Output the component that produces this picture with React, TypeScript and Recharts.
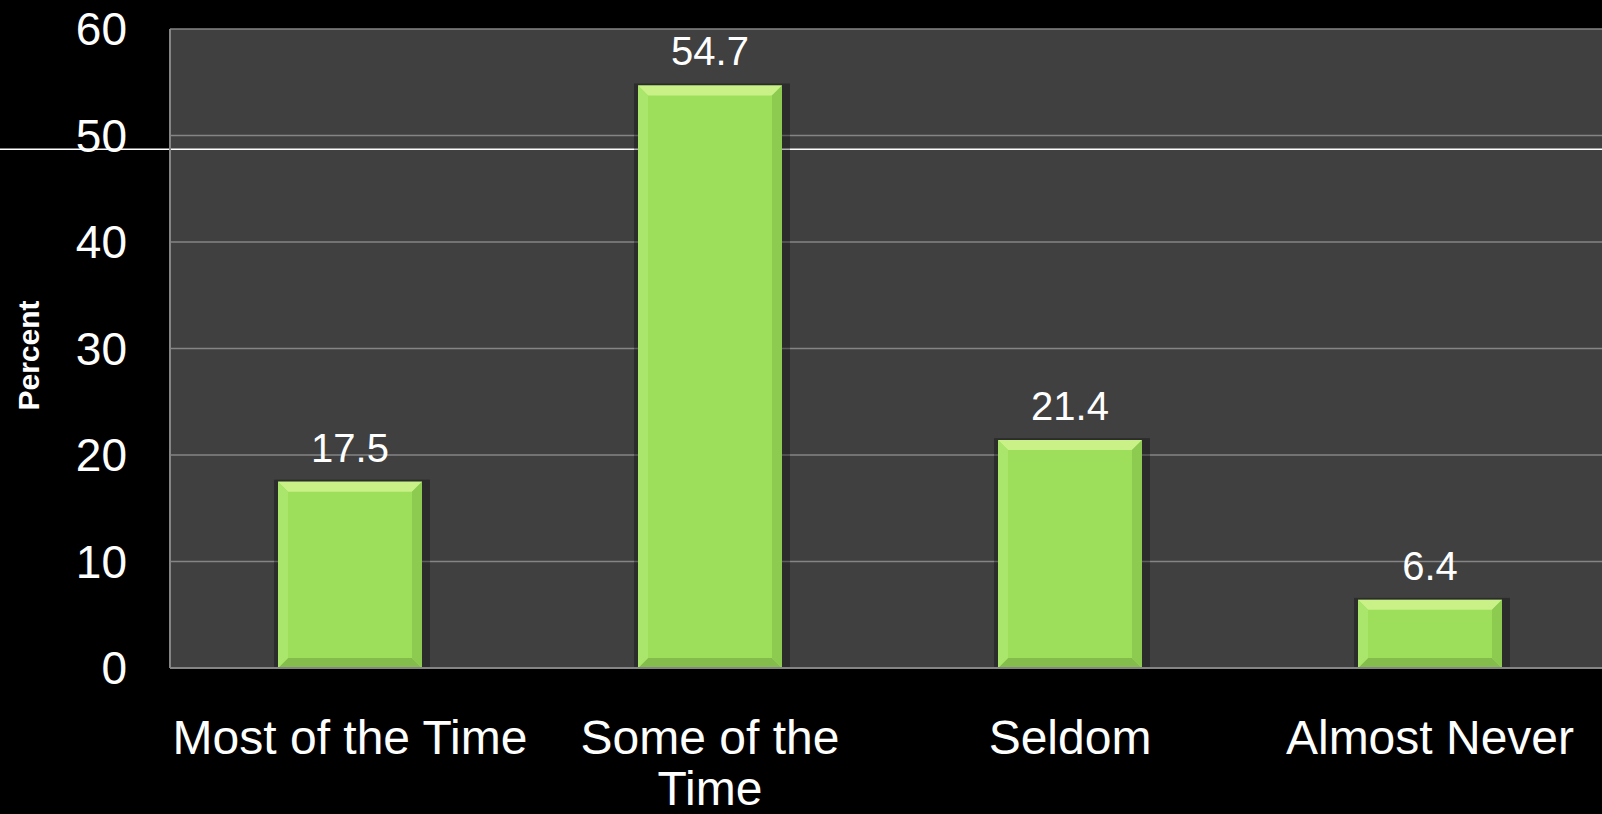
import React from 'react';
import {
  BarChart,
  Bar,
  XAxis,
  YAxis,
  CartesianGrid,
  LabelList,
  Text,
} from 'recharts';

const categories = ['Most of the Time', 'Some of the Time', 'Seldom', 'Almost Never'];
const percents = [17.5, 54.7, 21.4, 6.4];
const yTicks = [0, 10, 20, 30, 40, 50, 60];
const whiteLineValue = 48.7;

const data = categories.map((name, i) => ({ name, value: percents[i] }));

const FONT = '"Liberation Sans", Arial, sans-serif';

const CategoryTick = (props: any) => {
  const { x, y, payload } = props;
  return (
    <Text
      x={x}
      y={y}
      width={368}
      textAnchor="middle"
      verticalAnchor="start"
      lineHeight={51}
      fill="#ffffff"
      style={{ fontSize: '48px', fontFamily: FONT }}
    >
      {payload.value}
    </Text>
  );
};

const AxisTitle = (props: any) => {
  const vb = props.viewBox || { x: 0, y: 0, width: 0, height: 0 };
  const cx = vb.x + 28;
  const cy = vb.y + vb.height / 2 + 7;
  return (
    <text
      x={cx}
      y={cy}
      transform={`rotate(-90 ${cx} ${cy})`}
      textAnchor="middle"
      dominantBaseline="central"
      fill="#ffffff"
      fontSize={30}
      fontWeight="bold"
      fontFamily={FONT}
    >
      Percent
    </text>
  );
};

// bevelled green bar, like the office chart style
const BevelBar = (props: any) => {
  const { x, y, width: w, height: h } = props;
  if (!h || h <= 0) return null;
  const b = Math.min(10, h / 2);
  return (
    <g>
      <rect x={x - 4} y={y - 2} width={w + 12} height={h + 2} fill="#000" opacity={0.3} />
      <rect x={x} y={y} width={w} height={h} fill="#9dde5b" />
      <polygon
        points={`${x},${y} ${x + w},${y} ${x + w - b},${y + b} ${x + b},${y + b}`}
        fill="#c9f187"
      />
      <polygon
        points={`${x},${y + h} ${x + w},${y + h} ${x + w - b},${y + h - b} ${x + b},${y + h - b}`}
        fill="#84bd4b"
      />
      <polygon
        points={`${x},${y} ${x + b},${y + b} ${x + b},${y + h - b} ${x},${y + h}`}
        fill="#a9e66b"
      />
      <polygon
        points={`${x + w},${y} ${x + w - b},${y + b} ${x + w - b},${y + h - b} ${x + w},${y + h}`}
        fill="#8dca50"
      />
    </g>
  );
};

export default function App() {
  return (
    <div
      style={{
        position: 'fixed',
        left: 0,
        top: 0,
        width: 1602,
        height: 814,
        overflow: 'hidden',
        background: '#000000',
      }}
    >
      <BarChart
        width={1610}
        height={814}
        data={data}
        margin={{ top: 29, right: 0, bottom: 0, left: 0 }}
        barSize={144}
      >
        <CartesianGrid
          vertical={false}
          fill="#404040"
          stroke="#858585"
          strokeWidth={1.5}
        />
        {/* stray white rule across the slide, sits under the bars */}
        <CartesianGrid
          vertical={false}
          horizontalValues={[whiteLineValue]}
          x={0}
          width={1610}
          stroke="#ffffff"
          strokeWidth={1.5}
          fill="none"
        />
        <XAxis
          dataKey="name"
          height={146}
          interval={0}
          tickLine={false}
          tickSize={0}
          tickMargin={52}
          axisLine={{ stroke: '#858585', strokeWidth: 2 }}
          tick={<CategoryTick />}
        />
        <YAxis
          width={170}
          domain={[0, 60]}
          ticks={yTicks}
          interval={0}
          tickLine={false}
          tickSize={0}
          tickMargin={43}
          axisLine={{ stroke: '#858585', strokeWidth: 2 }}
          tick={{ fill: '#ffffff', fontSize: 46, fontFamily: FONT }}
          label={<AxisTitle />}
        />
        <Bar dataKey="value" isAnimationActive={false} shape={<BevelBar />}>
          <LabelList
            dataKey="value"
            position="top"
            offset={20}
            fill="#ffffff"
            style={{ fontSize: 40, fontFamily: FONT }}
          />
        </Bar>
      </BarChart>
    </div>
  );
}
